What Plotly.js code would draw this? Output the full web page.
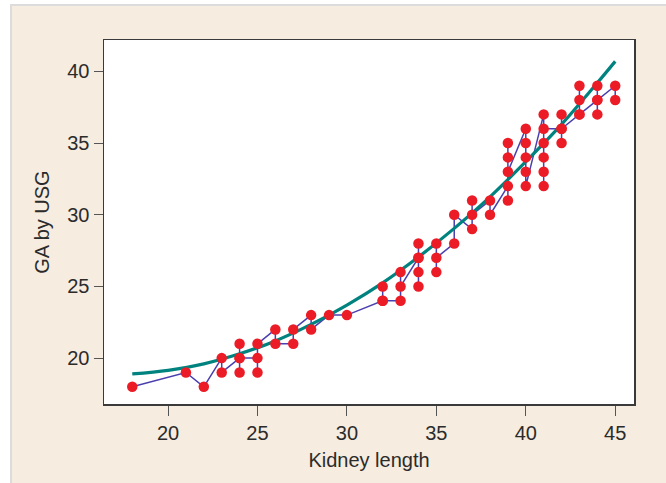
<!DOCTYPE html>
<html>
<head>
<meta charset="utf-8">
<script src="https://cdn.plot.ly/plotly-3.0.1.min.js"></script>
<style>
html,body{margin:0;padding:0;background:#ffffff;}
#frame{position:absolute;left:10px;top:4px;width:656px;height:479px;background:#f6ecdf;border-left:2px solid #dcdcdc;border-top:2px solid #dcdcdc;box-sizing:border-box;}
#plot{position:absolute;left:12px;top:6px;width:654px;height:477px;}
</style>
</head>
<body>
<div id="frame"></div>
<div id="plot"></div>
<script>
// Observations in data order (kidney length in mm, GA by USG in weeks)
var kidneyLength = [18,21,22,23,23,24,24,24,24,25,25,25,26,26,27,27,28,28,29,30,
  32,32,32,33,33,33,34,34,34,34,34,35,35,35,36,36,37,37,37,38,38,
  39,39,39,39,39,40,40,40,40,40,41,41,41,41,41,41,42,42,42,42,
  43,43,43,43,44,44,44,44,45,45];
var gaUSG = [18,19,18,20,19,20,21,19,20,20,19,21,22,21,21,22,23,22,23,23,
  24,25,24,24,26,25,27,28,26,25,27,28,26,27,28,30,29,31,30,31,30,
  32,31,35,34,33,36,35,34,33,32,37,32,33,34,35,36,36,37,35,36,
  37,39,38,37,38,39,37,38,39,38];
// Fitted curve
var fitX = [18,20,22,24,26,28,30,32,34,36,38,40,42,44,45];
var fitY = [18.9,19.15,19.6,20.3,21.2,22.35,23.7,25.25,27.05,29.05,31.25,33.7,36.3,39.2,40.7];
var xTicks = [20,25,30,35,40,45];
var yTicks = [20,25,30,35,40];

var traces = [
  {x: kidneyLength, y: gaUSG, type: 'scatter', mode: 'lines',
   line: {color: '#4a3fae', width: 1.5}, hoverinfo: 'skip'},
  {x: fitX, y: fitY, type: 'scatter', mode: 'lines',
   line: {color: '#00837f', width: 3.2, shape: 'spline'}},
  {x: kidneyLength, y: gaUSG, type: 'scatter', mode: 'markers',
   marker: {color: '#ec1c26', size: 10.5}}
];

var fontFam = 'Liberation Sans, Arial, sans-serif';
var axisFont = {family: fontFam, size: 20, color: '#2b2b2b'};
var layout = {
  width: 654, height: 477,
  margin: {l: 92, r: 32, t: 34, b: 79},
  paper_bgcolor: 'rgba(0,0,0,0)',
  plot_bgcolor: '#ffffff',
  showlegend: false,
  xaxis: {
    range: [16.42, 46.05], tickvals: xTicks, ticktext: xTicks.map(String),
    showgrid: false, zeroline: false, showline: true, mirror: true,
    linecolor: '#3a3a3a', linewidth: 1.5,
    ticks: 'outside', ticklen: 10, tickwidth: 1, tickcolor: '#555555',
    tickfont: axisFont,
    title: {text: 'Kidney length', font: {family: fontFam, size: 20, color: '#2b2b2b'}, standoff: 10}
  },
  yaxis: {
    range: [16.8, 42.19], tickvals: yTicks, ticktext: yTicks.map(String),
    showgrid: false, zeroline: false, showline: true, mirror: true,
    linecolor: '#3a3a3a', linewidth: 1.5,
    ticks: 'outside', ticklen: 9, tickwidth: 1, tickcolor: '#555555',
    tickfont: axisFont,
    title: {text: 'GA by USG', font: {family: fontFam, size: 20, color: '#2b2b2b'}, standoff: 12}
  }
};
Plotly.newPlot('plot', traces, layout, {displayModeBar: false, staticPlot: true});
</script>
</body>
</html>
